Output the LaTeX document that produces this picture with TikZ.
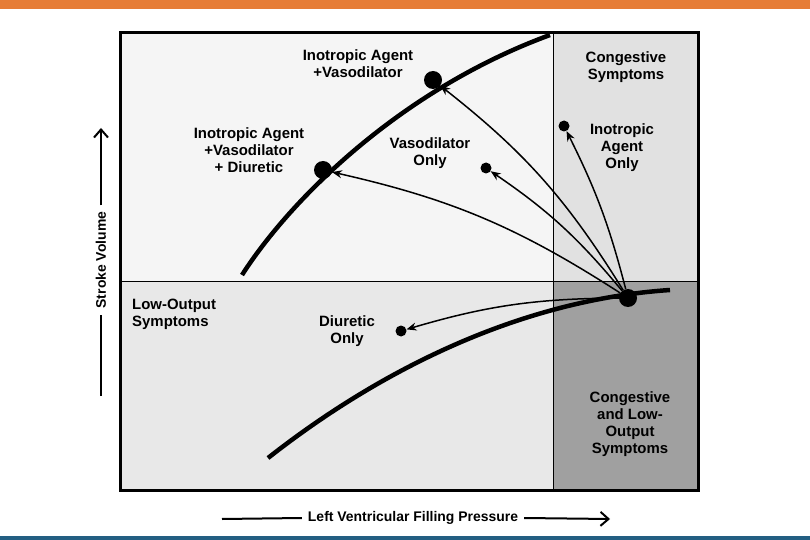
\documentclass[tikz,border=0pt]{standalone}
\usepackage{fontspec}
\setmainfont{Liberation Sans}
\usetikzlibrary{arrows.meta}
\begin{document}
\begin{tikzpicture}[x=1bp,y=-1bp,
  lab/.style={font=\fontsize{15}{17}\selectfont\bfseries,align=center,inner sep=1pt},
  axl/.style={font=\fontsize{14}{16}\selectfont\bfseries,inner sep=6bp},
  big/.style={circle,fill=black,minimum size=18bp,inner sep=0},
  small/.style={circle,fill=black,minimum size=11bp,inner sep=0},
  arr/.style={-{Stealth[length=10bp,width=8bp]},line width=1.5bp},
  curve/.style={line width=4.5bp}]
\useasboundingbox (0,0) rectangle (810,540);
\fill[white] (0,0) rectangle (810,540);
\fill[color={rgb,255:red,230;green,125;blue,55}] (0,0) rectangle (810,9);
\fill[color={rgb,255:red,35;green,95;blue,130}] (0,536) rectangle (810,540);
% regions
\fill[color={rgb,255:red,245;green,245;blue,245}] (120,33) rectangle (553,282);
\fill[color={rgb,255:red,225;green,225;blue,225}] (553,33) rectangle (698,282);
\fill[color={rgb,255:red,232;green,232;blue,232}] (120,282) rectangle (553,490);
\fill[color={rgb,255:red,160;green,160;blue,160}] (553,282) rectangle (698,490);
\draw[line width=1bp] (553,33) -- (553,490) (120,282) -- (698,282);
\draw[line width=3bp] (120,33) rectangle (698,490);
% curves
\draw[curve] (242,275) .. controls (290,200) and (400,90) .. (550,35);
\draw[curve] (268,458) .. controls (380,370) and (520,300) .. (670,290);
% dots
\node[big] (s) at (628,298) {};
\node[big] (a) at (323,170) {};
\node[big] (b) at (433,80) {};
\node[small] (c) at (486,168) {};
\node[small] (d) at (564,126) {};
\node[small] (e) at (401,331) {};
\draw[arr] (s) to[bend right=10] (a);
\draw[arr] (s) to[bend right=10] (b);
\draw[arr] (s) to[bend right=8] (c);
\draw[arr] (s) to[bend right=6] (d);
\draw[arr] (s) to[bend right=8] (e);
% labels
\node[lab] (la) at (249,150) {Inotropic Agent\\+Vasodilator\\+ Diuretic};
\node[lab] (lb) at (358,64) {Inotropic Agent\\+Vasodilator};
\node[lab] (lc) at (430,153) {Vasodilator\\Only};
\node[lab] (ld) at (622,148) {Inotropic\\Agent\\Only};
\node[lab] (le) at (347,331) {Diuretic\\Only};
\node[lab] (lf) at (626,67) {Congestive\\Symptoms};
\node[lab,align=left,anchor=west] (lg) at (131,314) {Low-Output\\Symptoms};
\node[lab] (lh) at (630,424) {Congestive\\and Low-\\Output\\Symptoms};
% axes
\node[axl] (xl) at (413,518) {Left Ventricular Filling Pressure};
\coordinate (x0) at (222,519); \coordinate (x1) at (610,519);
\draw[line width=2bp] (x0) -- (xl.west);
\draw[line width=2bp,-{Straight Barb[length=8bp,width=14bp]}] (xl.east) -- (x1);
\node[axl,rotate=90] (yl) at (101,260) {Stroke Volume};
\coordinate (y0) at (101,396); \coordinate (y1) at (101,128);
\draw[line width=2bp] (y0) -- (yl.west);
\draw[line width=2bp,-{Straight Barb[length=8bp,width=14bp]}] (yl.east) -- (y1);
\end{tikzpicture}
\end{document}
